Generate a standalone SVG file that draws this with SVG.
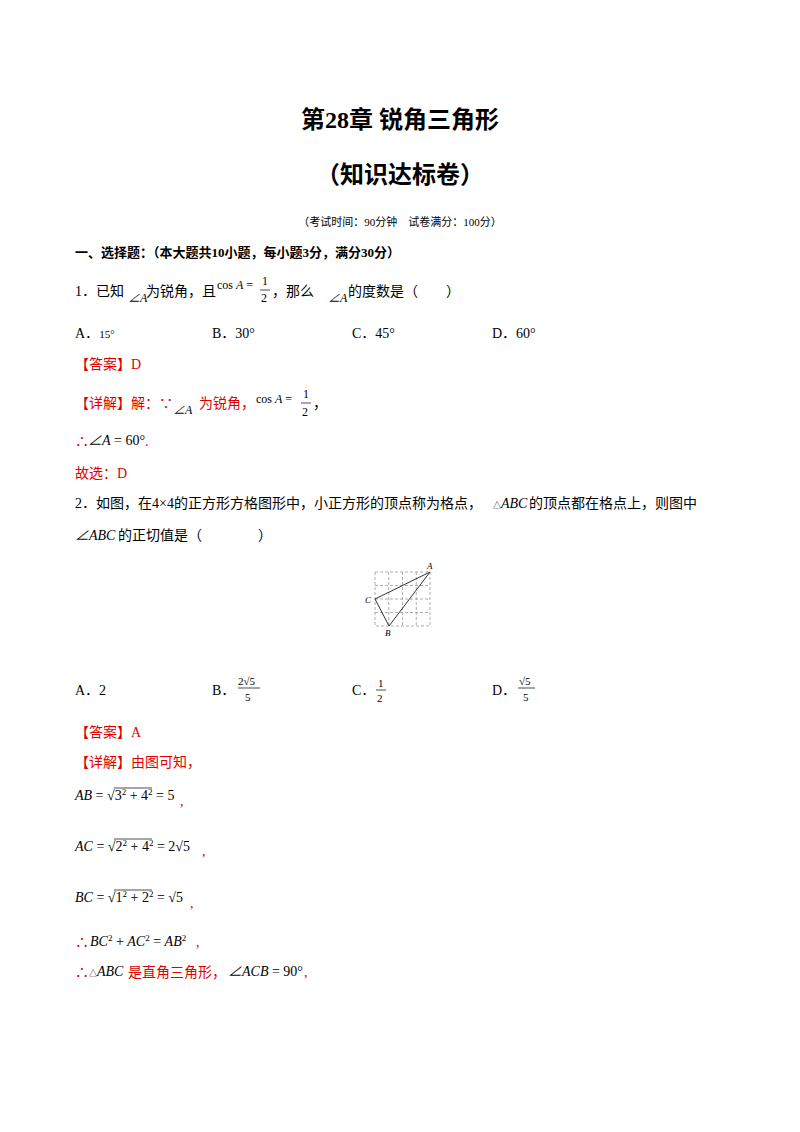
<svg xmlns="http://www.w3.org/2000/svg" width="800" height="1132" viewBox="0 0 800 1132">
<style>
text{font-family:"Liberation Serif","Noto Sans CJK SC",serif;font-size:14px;fill:#000}
.r{fill:#e00000}
.i{font-style:italic}
.b{font-weight:bold}
.s{font-size:9px}
.g{stroke:#999;stroke-width:0.8;stroke-dasharray:3,2;fill:none}
.l{stroke:#000;stroke-width:0.7}
</style>
<rect width="800" height="1132" fill="#fff"/>
<text x="400" y="128" text-anchor="middle" class="b" style="font-size:24px">第28章 锐角三角形</text>
<text x="400" y="183" text-anchor="middle" class="b" style="font-size:24px">（知识达标卷）</text>
<text x="400" y="226" text-anchor="middle" style="font-size:11px">（考试时间：90分钟　试卷满分：100分）</text>
<text x="75" y="257" class="b" style="font-size:13px">一、选择题：（本大题共10小题，每小题3分，满分30分）</text>
<g id="q1">
<text x="75" y="296">1．已知</text>
<text x="128" y="302" class="i" style="font-size:12px">∠A</text>
<text x="146" y="296">为锐角，且</text>
<text x="217" y="289" style="font-size:12px">cos <tspan class="i">A</tspan> =</text>
<text x="262" y="285" style="font-size:12px">1</text>
<line x1="260" y1="290" x2="270" y2="290" class="l"/>
<text x="261" y="302" style="font-size:12px">2</text>
<text x="272" y="296">，那么</text>
<text x="328" y="302" class="i" style="font-size:12px">∠A</text>
<text x="348" y="296">的度数是（　　）</text>
<text x="75" y="338">A．<tspan style="font-size:11px">15°</tspan></text>
<text x="212" y="338">B．30°</text>
<text x="352" y="338">C．45°</text>
<text x="492" y="338">D．60°</text>
</g>
<text x="75" y="369" class="r">【答案】D</text>
<text x="75" y="408" class="r">【详解】解：∵</text>
<text x="173" y="414" class="i" style="font-size:12px">∠A</text>
<text x="199" y="408" class="r">为锐角，</text>
<text x="256" y="403" style="font-size:12px">cos <tspan class="i">A</tspan> =</text>
<text x="303" y="398" style="font-size:12px">1</text>
<line x1="301" y1="403" x2="311" y2="403" class="l"/>
<text x="302" y="416" style="font-size:12px">2</text>
<text x="313" y="408">，</text>
<text x="75" y="446" class="r">∴</text>
<text x="88" y="445"><tspan class="i">∠A</tspan> = 60°</text>
<text x="145" y="446" class="r">.</text>
<text x="75" y="478" class="r">故选：D</text>
<g id="q2">
<text x="75" y="508">2．如图，在4×4的正方形方格图形中，小正方形的顶点称为格点，</text>
<text x="493" y="508"><tspan style="font-size:8px">△</tspan><tspan class="i">ABC</tspan></text>
<text x="529" y="508">的顶点都在格点上，则图中</text>
<text x="75" y="540" class="i">∠ABC</text>
<text x="118" y="540">的正切值是（　　　　）</text>
</g>
<g id="figure">
<rect x="375" y="572" width="55" height="54" class="g"/>
<path d="M388.75 572V626M402.5 572V626M416.25 572V626M375 585.5H430M375 599H430M375 612.5H430" class="g"/>
<polygon points="430,572 375,599 389,626" fill="none" stroke="#333" stroke-width="1"/>
<text x="427" y="569" class="i" style="font-size:9px">A</text>
<text x="365" y="603" class="i" style="font-size:9px">C</text>
<text x="385" y="636" class="i" style="font-size:9px">B</text>
</g>
<g id="opts2">
<text x="75" y="695">A．2</text>
<text x="212" y="695">B．</text>
<text x="238" y="685" style="font-size:11px">2√5</text>
<line x1="238" y1="688" x2="260" y2="688" class="l"/>
<text x="245" y="701" style="font-size:11px">5</text>
<text x="352" y="695">C．</text>
<text x="378" y="687" style="font-size:11px">1</text>
<line x1="376" y1="690" x2="386" y2="690" class="l"/>
<text x="377" y="702" style="font-size:11px">2</text>
<text x="492" y="695">D．</text>
<text x="519" y="685" style="font-size:11px">√5</text>
<line x1="518" y1="688" x2="535" y2="688" class="l"/>
<text x="523" y="701" style="font-size:11px">5</text>
</g>
<text x="75" y="737" class="r">【答案】A</text>
<text x="75" y="767" class="r">【详解】由图可知，</text>
<text x="75" y="800"><tspan class="i">AB</tspan> = √3<tspan dy="-5" class="s">2</tspan><tspan dy="5"> + 4</tspan><tspan dy="-5" class="s">2</tspan><tspan dy="5"> = 5</tspan></text>
<line x1="114" y1="788" x2="152" y2="788" class="l"/>
<text x="180" y="806" class="r">,</text>
<text x="75" y="851"><tspan class="i">AC</tspan> = √2<tspan dy="-5" class="s">2</tspan><tspan dy="5"> + 4</tspan><tspan dy="-5" class="s">2</tspan><tspan dy="5"> = 2√5</tspan></text>
<line x1="114" y1="839" x2="152" y2="839" class="l"/>
<text x="202" y="856" class="r">,</text>
<text x="75" y="902"><tspan class="i">BC</tspan> = √1<tspan dy="-5" class="s">2</tspan><tspan dy="5"> + 2</tspan><tspan dy="-5" class="s">2</tspan><tspan dy="5"> = √5</tspan></text>
<line x1="114" y1="890" x2="152" y2="890" class="l"/>
<text x="190" y="908" class="r">,</text>
<text x="75" y="947" class="r">∴</text>
<text x="90" y="946"><tspan class="i">BC</tspan><tspan dy="-5" class="s">2</tspan><tspan dy="5"> + </tspan><tspan class="i">AC</tspan><tspan dy="-5" class="s">2</tspan><tspan dy="5"> = </tspan><tspan class="i">AB</tspan><tspan dy="-5" class="s">2</tspan></text>
<text x="196" y="947" class="r">,</text>
<text x="75" y="977" class="r">∴</text>
<text x="89" y="976"><tspan style="font-size:8px">△</tspan><tspan class="i">ABC</tspan></text>
<text x="128" y="977" class="r">是直角三角形，</text>
<text x="228" y="976"><tspan class="i">∠ACB</tspan> = 90°</text>
<text x="304" y="977" class="r">,</text>
</svg>
